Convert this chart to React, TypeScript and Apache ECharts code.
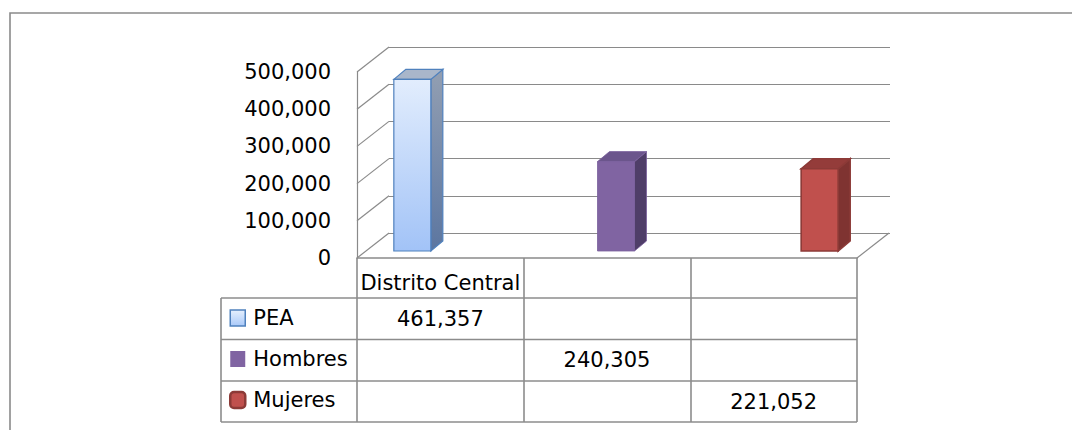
import React, { useEffect, useRef } from "react";
import * as echarts from "echarts";

// ---- data ----
const categories = ["Distrito Central", "", ""];
const seriesNames = ["PEA", "Hombres", "Mujeres"];
const peaValues = [461357, null, null];
const hombresValues = [null, 240305, null];
const mujeresValues = [null, null, 221052];
const yTicks = [0, 100000, 200000, 300000, 400000, 500000];

// ---- style constants ----
const FONT = "DejaVu Sans";
const GRID_COLOR = "#8a8a8a";
const TABLE_COLOR = "#8c8c8c";
const WALL_DX = 32;
const WALL_DY = -25;
const BAR_DX = 9;
const BAR_DY = -7;
const BAR_DEPTH_DX = 12;
const BAR_DEPTH_DY = -10;
const BAR_FRAC = 0.222;
const ROW_Y = [318.5, 360, 401.5];

const grad = (a: string, b: string) =>
  new echarts.graphic.LinearGradient(0, 0, 0, 1, [
    { offset: 0, color: a },
    { offset: 1, color: b },
  ]);

const barStyles = [
  {
    front: () => grad("#e2edfd", "#a2c3f7"),
    side: () => grad("#939fb2", "#5c76a0"),
    top: "#a9b6ca",
    stroke: "#4f81bd",
    lw: 1.2,
  },
  {
    front: () => "#8064a2",
    side: () => "#4f3e68",
    top: "#6b558c",
    stroke: "#7a5f9c",
    lw: 0.8,
  },
  {
    front: () => "#c0504d",
    side: () => "#7f3331",
    top: "#943c3a",
    stroke: "#8c3a37",
    lw: 1.6,
  },
];

const fmt = (v: number) => v.toLocaleString("en-US");

export default function App() {
  const ref = useRef<HTMLDivElement>(null);

  useEffect(() => {
    document.body.style.margin = "0";
    if (!ref.current) return;
    const chart = echarts.init(ref.current, undefined, { renderer: "svg" });

    const valueLists = [peaValues, hombresValues, mujeresValues];

    const barSeries = valueLists.map((vals, s) => ({
      type: "custom",
      name: seriesNames[s],
      xAxisIndex: 0,
      yAxisIndex: 0,
      z: 5,
      silent: true,
      data: vals
        .map((v, i) => (v == null ? null : [i, v]))
        .filter((d) => d !== null),
      renderItem: (params: any, api: any) => {
        const cat = api.value(0);
        const v = api.value(1);
        const top = api.coord([cat, v]);
        const base = api.coord([cat, 0]);
        const band = api.size([1, 0])[0];
        const bw = band * BAR_FRAC;
        const cx = top[0] + (s - 1) * bw + BAR_DX;
        const x0 = cx - bw / 2;
        const x1 = cx + bw / 2;
        const yt = top[1] + BAR_DY;
        const yb = base[1] + BAR_DY;
        const st = barStyles[s];
        return {
          type: "group",
          children: [
            {
              type: "polygon",
              shape: {
                points: [
                  [x1, yt],
                  [x1 + BAR_DEPTH_DX, yt + BAR_DEPTH_DY],
                  [x1 + BAR_DEPTH_DX, yb + BAR_DEPTH_DY],
                  [x1, yb],
                ],
              },
              style: { fill: st.side(), stroke: st.stroke, lineWidth: st.lw },
            },
            {
              type: "polygon",
              shape: {
                points: [
                  [x0, yt],
                  [x0 + BAR_DEPTH_DX, yt + BAR_DEPTH_DY],
                  [x1 + BAR_DEPTH_DX, yt + BAR_DEPTH_DY],
                  [x1, yt],
                ],
              },
              style: { fill: st.top, stroke: st.stroke, lineWidth: st.lw },
            },
            {
              type: "rect",
              shape: { x: x0, y: yt, width: bw, height: yb - yt },
              style: { fill: st.front(), stroke: st.stroke, lineWidth: st.lw },
            },
            {
              type: "text",
              style: {
                text: fmt(v),
                x: top[0],
                y: ROW_Y[s],
                align: "center",
                verticalAlign: "middle",
                fontSize: 21,
                fontFamily: FONT,
                fill: "#000",
              },
            },
          ],
        };
      },
    }));

    const wallSeries = {
      type: "custom",
      xAxisIndex: 0,
      yAxisIndex: 0,
      z: 1,
      silent: true,
      data: yTicks.map((v) => [0, v]),
      renderItem: (params: any, api: any) => {
        const v = api.value(1);
        const p = api.coord([0, v]);
        const band = api.size([1, 0])[0];
        const xl = p[0] - band / 2;
        const children: any[] = [
          {
            type: "line",
            shape: { x1: xl, y1: p[1], x2: xl + WALL_DX, y2: p[1] + WALL_DY },
            style: { stroke: GRID_COLOR, lineWidth: 1.2 },
          },
        ];
        if (v === 0) {
          const xr = xl + band * categories.length;
          children.push({
            type: "line",
            shape: { x1: xr, y1: p[1], x2: xr + WALL_DX, y2: p[1] + WALL_DY },
            style: { stroke: GRID_COLOR, lineWidth: 1.2 },
          });
        }
        return { type: "group", children };
      },
    };

    const tableLines: any[] = [298, 339.5, 381, 422].map((y) => ({
      type: "line",
      shape: { x1: 221, y1: y, x2: 857, y2: y },
      style: { stroke: TABLE_COLOR, lineWidth: 1.6 },
      silent: true,
    }));
    tableLines.push({
      type: "line",
      shape: { x1: 221, y1: 298, x2: 221, y2: 422 },
      style: { stroke: TABLE_COLOR, lineWidth: 1.6 },
      silent: true,
    });

    const option: any = {
      animation: false,
      backgroundColor: "#ffffff",
      tooltip: { show: false },
      grid: [
        { left: 357, top: 72, width: 500, height: 186 },
        { left: 389, top: 47, width: 501, height: 186 },
      ],
      xAxis: [
        {
          type: "category",
          gridIndex: 0,
          data: categories,
          boundaryGap: true,
          axisLine: { show: true, lineStyle: { color: GRID_COLOR, width: 1.5 } },
          axisTick: {
            show: true,
            length: 164,
            interval: 0,
            lineStyle: { color: TABLE_COLOR, width: 1.6 },
          },
          axisLabel: {
            interval: 0,
            margin: 13,
            fontSize: 21,
            lineHeight: 24,
            fontFamily: FONT,
            color: "#000",
          },
        },
        {
          type: "category",
          gridIndex: 1,
          data: categories,
          show: false,
        },
      ],
      yAxis: [
        {
          type: "value",
          gridIndex: 0,
          min: yTicks[0],
          max: yTicks[yTicks.length - 1],
          interval: yTicks[1] - yTicks[0],
          axisLine: { show: true, lineStyle: { color: GRID_COLOR, width: 1.2 } },
          axisTick: { show: false },
          splitLine: { show: false },
          axisLabel: {
            margin: 26,
            fontSize: 21,
            fontFamily: FONT,
            color: "#000",
            formatter: (v: number) => fmt(v),
          },
        },
        {
          type: "value",
          gridIndex: 1,
          min: yTicks[0],
          max: yTicks[yTicks.length - 1],
          interval: yTicks[1] - yTicks[0],
          axisLine: { show: false },
          axisTick: { show: false },
          axisLabel: { show: false },
          splitLine: { show: true, lineStyle: { color: GRID_COLOR, width: 1.2 } },
        },
      ],
      legend: {
        orient: "vertical",
        left: 229,
        top: 306,
        padding: 0,
        itemWidth: 15,
        itemHeight: 16,
        itemGap: 17,
        selectedMode: false,
        textStyle: {
          fontFamily: FONT,
          fontSize: 21,
          lineHeight: 24,
          color: "#000",
          padding: [0, 0, 0, 3],
        },
        data: [
          {
            name: "PEA",
            icon: "rect",
            itemStyle: {
              color: grad("#e6f0fd", "#a9c9f9"),
              borderColor: "#4f81bd",
              borderWidth: 1.5,
            },
          },
          {
            name: "Hombres",
            icon: "rect",
            itemStyle: { color: "#8064a2", borderWidth: 0 },
          },
          {
            name: "Mujeres",
            icon: "roundRect",
            itemStyle: { color: "#c0504d", borderColor: "#8c3a37", borderWidth: 2.5 },
          },
        ],
      },
      graphic: [
        {
          type: "rect",
          silent: true,
          z: -1,
          shape: { x: 10, y: 13, width: 1200, height: 600 },
          style: { fill: "none", stroke: "#8a8a8a", lineWidth: 1.6 },
        },
        ...tableLines,
      ],
      series: [wallSeries, ...barSeries],
    };

    chart.setOption(option);
    return () => chart.dispose();
  }, []);

  return <div ref={ref} style={{ width: 1072, height: 430 }} />;
}
